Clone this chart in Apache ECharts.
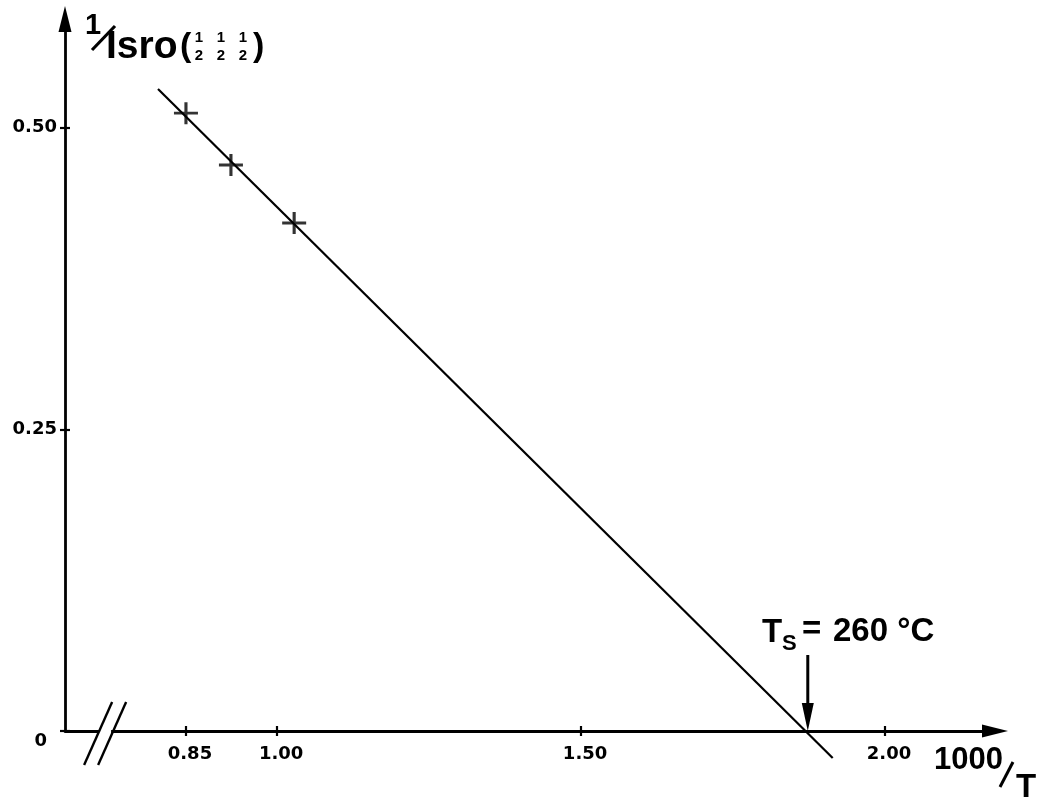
<!DOCTYPE html>
<html><head><meta charset="utf-8">
<script src="https://cdn.jsdelivr.net/npm/echarts@6/dist/echarts.min.js"></script>
<style>html,body{margin:0;padding:0;background:#fff}#c{width:1040px;height:801px}</style>
</head><body><div id="c"></div>
<script>
// measured points: x = 1000/T, y = 1/I_sro(1/2 1/2 1/2)
const pointsX = [0.850, 0.924, 1.028];
const pointsY = [0.512, 0.469, 0.421];
// fitted straight line end points
const fitX = [0.804, 1.914];
const fitY = [0.532, -0.0224];
// tick values
const xTicks = [0.85, 1.00, 1.50, 2.00];
const yTicks = [0, 0.25, 0.50];
// annotation: Ts = 260 °C at 1000/T
const tsX = 1.873;
const tsArrowTop = 0.063;
const breakX = 0.717;

const FONT = 'Liberation Sans';
const LBL = 'DejaVu Sans';
const chart = echarts.init(document.getElementById('c'));

const tickStyle = {color:'#000', width:2.2};
const arrowSym = 'path://M7,0L14,28L0,28Z';
const XMIN = 0.651, XMAX = 2.181, YMAX = 0.590;
chart.setOption({
  animation:false,
  backgroundColor:'#fff',
  grid:{left:65,right:45,top:19,bottom:70},
  xAxis:[
    {type:'value',min:XMIN,max:XMAX,position:'bottom',
     axisLine:{show:true,onZero:false,symbol:['none',arrowSym],symbolSize:[13,27],lineStyle:{color:'#000',width:2.8}},
     axisTick:{show:true,customValues:xTicks,length:5,lineStyle:tickStyle},
     axisLabel:{show:true,customValues:xTicks,formatter:v=>v.toFixed(2),margin:14,color:'#000',
       fontFamily:LBL,fontWeight:'bold',fontSize:18,padding:[0,0,0,8]},
     splitLine:{show:false}},
    {type:'value',min:XMIN,max:XMAX,position:'bottom',
     axisLine:{show:false,onZero:false},
     axisTick:{show:true,inside:true,customValues:xTicks,length:5,lineStyle:tickStyle},
     axisLabel:{show:false},splitLine:{show:false}}
  ],
  yAxis:[
    {type:'value',min:0,max:YMAX,position:'left',
     axisLine:{show:true,onZero:false,symbol:['none',arrowSym],symbolSize:[13,27],lineStyle:{color:'#000',width:2.8}},
     axisTick:{show:true,customValues:yTicks,length:5,lineStyle:tickStyle},
     axisLabel:{show:true,customValues:yTicks,margin:8,color:'#000',
       fontFamily:LBL,fontWeight:'bold',fontSize:18,
       formatter:v=> v===0 ? '{z|0}' : v.toFixed(2),
       rich:{z:{fontFamily:LBL,fontWeight:'bold',fontSize:18,color:'#000',padding:[20,10,0,0]}}},
     splitLine:{show:false}},
    {type:'value',min:0,max:YMAX,position:'left',
     axisLine:{show:false,onZero:false},
     axisTick:{show:true,inside:true,customValues:yTicks,length:5,lineStyle:tickStyle},
     axisLabel:{show:false},splitLine:{show:false}}
  ],
  series:[
    {type:'line',data:fitX.map((x,i)=>[x,fitY[i]]),symbol:'none',clip:false,
     lineStyle:{color:'#000',width:2.2},z:2},
    {type:'scatter',data:pointsX.map((x,i)=>[x,pointsY[i]]),
     symbol:'path://M8.7,0H11.3V8.7H20V11.3H11.3V20H8.7V11.3H0V8.7H8.7Z',symbolSize:[24,22],
     itemStyle:{color:'#000'},z:3}
  ]
});

const p0 = chart.convertToPixel({gridIndex:0},[breakX,0]);
const pa = chart.convertToPixel({gridIndex:0},[tsX,0]);
const pt = chart.convertToPixel({gridIndex:0},[tsX,tsArrowTop]);
const c = p0[0], ay = p0[1];
const ax = pa[0];
const txt = (text,x,y,size,align) => ({type:'text',x:x,y:y,silent:true,z:10,
  style:{text:text,fill:'#000',font:'bold '+size+'px "'+FONT+'"',verticalAlign:'middle',align:align||'left'}});
const ln = (x1,y1,x2,y2,w) => ({type:'line',silent:true,z:10,shape:{x1:x1,y1:y1,x2:x2,y2:y2},style:{stroke:'#000',lineWidth:w}});

chart.setOption({graphic:[
  // axis break
  {type:'rect',silent:true,z:9,shape:{x:c-6,y:ay-4,width:12,height:8},style:{fill:'#fff'}},
  ln(c-7-14,ay+34,c-7+14,ay-29,2.4),
  ln(c+7-14,ay+34,c+7+14,ay-29,2.4),
  // arrow to Ts
  ln(ax,pt[1],ax,ay-22,3),
  {type:'polygon',silent:true,z:10,shape:{points:[[ax-6,ay-28],[ax+6,ay-28],[ax,ay]]},style:{fill:'#000'}},
  // Ts label
  txt('T',762,633,33),
  txt('S',782,644,22),
  txt('=',802,630,33),
  txt('260 °C',833,632,33),
  // y-axis title 1/Isro(1/2 1/2 1/2)
  txt('1',85,26,29),
  ln(92,50,115,26,3.2),
  txt('Isro',106,47,39),
  txt('(',180,47,34),
  txt('1',199,38,15,'center'), txt('2',199,56,15,'center'),
  txt('1',221,38,15,'center'), txt('2',221,56,15,'center'),
  txt('1',243,38,15,'center'), txt('2',243,56,15,'center'),
  txt(')',253,47,34),
  // x-axis title 1000/T
  txt('1000',934,760,31),
  ln(1000,787,1013,762,3),
  txt('T',1016,788,33)
]});
</script>
</body></html>
